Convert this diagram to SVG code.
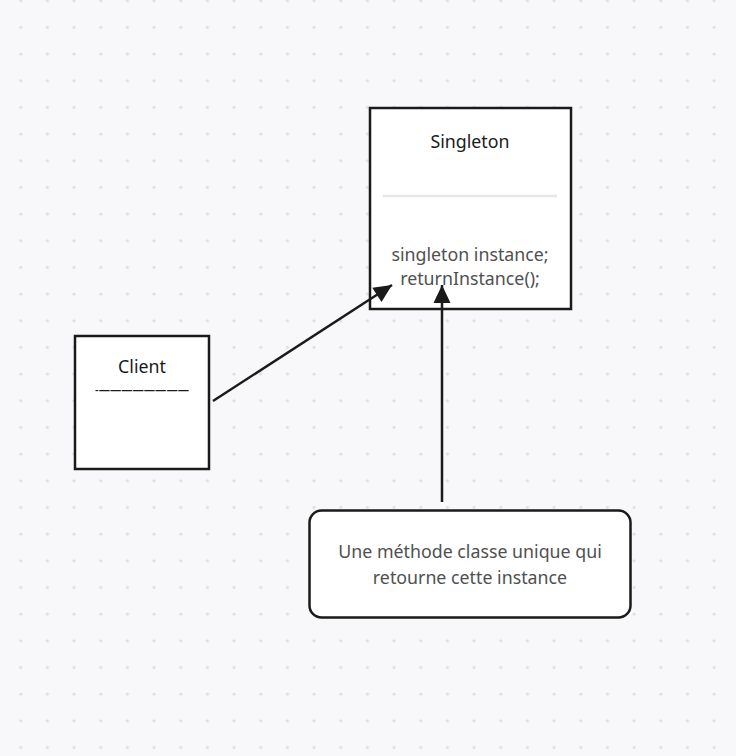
<svg xmlns="http://www.w3.org/2000/svg" width="736" height="756" viewBox="0 0 736 756">
<defs>
<pattern id="dots" x="20.7" y="0.7" width="26.67" height="26.67" patternUnits="userSpaceOnUse">
<circle cx="0" cy="0" r="1.6" fill="#dcdce1"/>
<circle cx="26.67" cy="0" r="1.6" fill="#dcdce1"/>
<circle cx="0" cy="26.67" r="1.6" fill="#dcdce1"/>
<circle cx="26.67" cy="26.67" r="1.6" fill="#dcdce1"/>
</pattern>
<marker id="arr" viewBox="0 0 20 20" refX="19" refY="10" markerWidth="20" markerHeight="20" markerUnits="userSpaceOnUse" orient="auto">
<path d="M1,1.5 L19,10 L1,18.5 Z" fill="#1a1a1a"/>
</marker>
</defs>
<style>
.box{fill:#ffffff;stroke:#1a1a1a;stroke-width:2.5}
.t{font-family:"Noto Sans","Open Sans","Liberation Sans",sans-serif;font-size:17.8px;text-anchor:middle}
.dark{fill:#1a1a1a}
.gray{fill:#505050}
.conn{stroke:#1a1a1a;stroke-width:2.5;fill:none}
</style>
<rect width="736" height="756" fill="#f8f8fa"/>
<rect width="736" height="756" fill="url(#dots)"/>
<g id="singleton">
<rect class="box" x="370" y="108" width="201" height="201"/>
<text class="t dark" x="470" y="148">Singleton</text>
<line x1="383" y1="196" x2="557" y2="196" stroke="#e6e6e6" stroke-width="2.5"/>
<text class="t gray" x="470" y="261">singleton instance;</text>
<text class="t gray" x="470" y="285">returnInstance();</text>
</g>
<g id="client">
<rect class="box" x="75" y="336" width="134" height="133"/>
<text class="t dark" x="142" y="373">Client</text>
<text class="t dark" x="142" y="395" style="font-size:14px" textLength="94" lengthAdjust="spacingAndGlyphs">-————————</text>
</g>
<g id="note">
<rect class="box" x="309.5" y="510.5" width="321" height="107" rx="12" ry="12"/>
<text class="t gray" x="470" y="558">Une méthode classe unique qui</text>
<text class="t gray" x="470" y="584">retourne cette instance</text>
</g>
<g id="connectors">
<line class="conn" x1="213" y1="401" x2="392" y2="285" marker-end="url(#arr)"/>
<line class="conn" x1="442" y1="502" x2="442" y2="285" marker-end="url(#arr)"/>
</g>
</svg>
